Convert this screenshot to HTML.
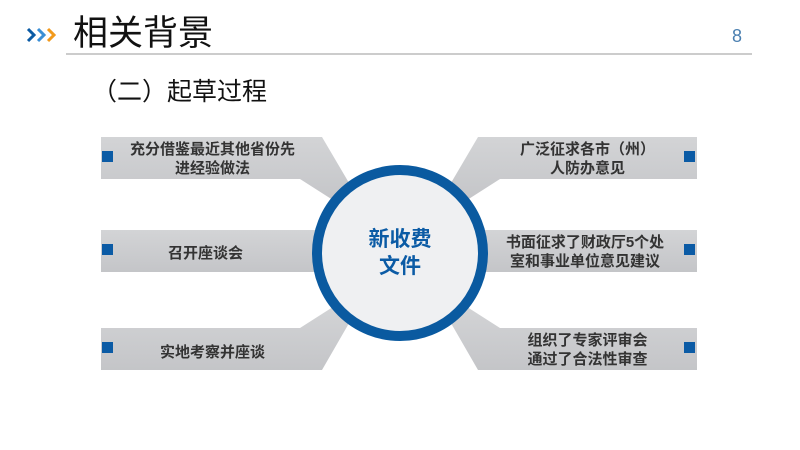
<!DOCTYPE html>
<html><head><meta charset="utf-8"><style>
body{margin:0;width:800px;height:450px;background:#fff;position:relative;overflow:hidden;font-family:"Liberation Sans","Noto Sans CJK SC",sans-serif}
.t{position:absolute;white-space:nowrap}
</style></head><body>
<svg width="800" height="450" style="position:absolute;left:0;top:0">
<defs><linearGradient id="g" x1="0" y1="0" x2="0" y2="1"><stop offset="0" stop-color="#d3d4d6"/><stop offset="1" stop-color="#c4c5c8"/></linearGradient></defs>
<polyline points="28,29 34,35 28,41" fill="none" stroke="#0b5ba5" stroke-width="3"/>
<polyline points="38,29 44,35 38,41" fill="none" stroke="#3b8fd6" stroke-width="3"/>
<polyline points="48,29 54,35 48,41" fill="none" stroke="#f29a1d" stroke-width="3"/>
<line x1="66" y1="54" x2="752" y2="54" stroke="#9a9a9a" stroke-width="1"/>
<g fill="url(#g)">
<polygon points="101,137 322,137 352,188 336,202 300,179 101,179"/>
<polygon points="101,230 318,230 318,272 101,272"/>
<polygon points="101,328 300,328 336,305 352,318 322,370 101,370"/>
<polygon points="697,137 478,137 448,188 464,202 500,179 697,179"/>
<polygon points="697,230 482,230 482,272 697,272"/>
<polygon points="697,328 500,328 464,305 448,318 478,370 697,370"/>
</g>
<g fill="#0b5ba5">
<rect x="102" y="151" width="11" height="11"/><rect x="102" y="244" width="11" height="11"/><rect x="102" y="342" width="11" height="11"/>
<rect x="684" y="151" width="11" height="11"/><rect x="684" y="244" width="11" height="11"/><rect x="684" y="342" width="11" height="11"/>
</g>
<ellipse cx="400" cy="253" rx="83" ry="83" fill="#eff0f2" stroke="#0a5aa0" stroke-width="10"/>
</svg>
<div class="t" style="left:73px;top:5px;font-size:35px;color:#111">相关背景</div>
<div class="t" style="left:732px;top:26px;font-size:18px;color:#4a7fb0">8</div>
<div class="t" style="left:92px;top:72px;font-size:25px;color:#111">（二）起草过程</div>
<div class="t" style="left:130px;top:140px;font-size:15px;font-weight:bold;color:#333;line-height:19px;text-align:center">充分借鉴最近其他省份先<br>进经验做法</div>
<div class="t" style="left:168px;top:242px;font-size:15px;font-weight:bold;color:#333">召开座谈会</div>
<div class="t" style="left:160px;top:341px;font-size:15px;font-weight:bold;color:#333">实地考察并座谈</div>
<div class="t" style="left:505px;top:140px;width:165px;font-size:15px;font-weight:bold;color:#333;line-height:19px;text-align:center">广泛征求各市（州）<br>人防办意见</div>
<div class="t" style="left:490px;top:233px;width:190px;font-size:15px;font-weight:bold;color:#333;line-height:19px;text-align:center">书面征求了财政厅5个处<br>室和事业单位意见建议</div>
<div class="t" style="left:505px;top:331px;width:165px;font-size:15px;font-weight:bold;color:#333;line-height:19px;text-align:center">组织了专家评审会<br>通过了合法性审查</div>
<div class="t" style="left:340px;top:226px;width:120px;font-size:21px;font-weight:bold;color:#0b5ba5;line-height:27px;text-align:center">新收费<br>文件</div>
</body></html>
